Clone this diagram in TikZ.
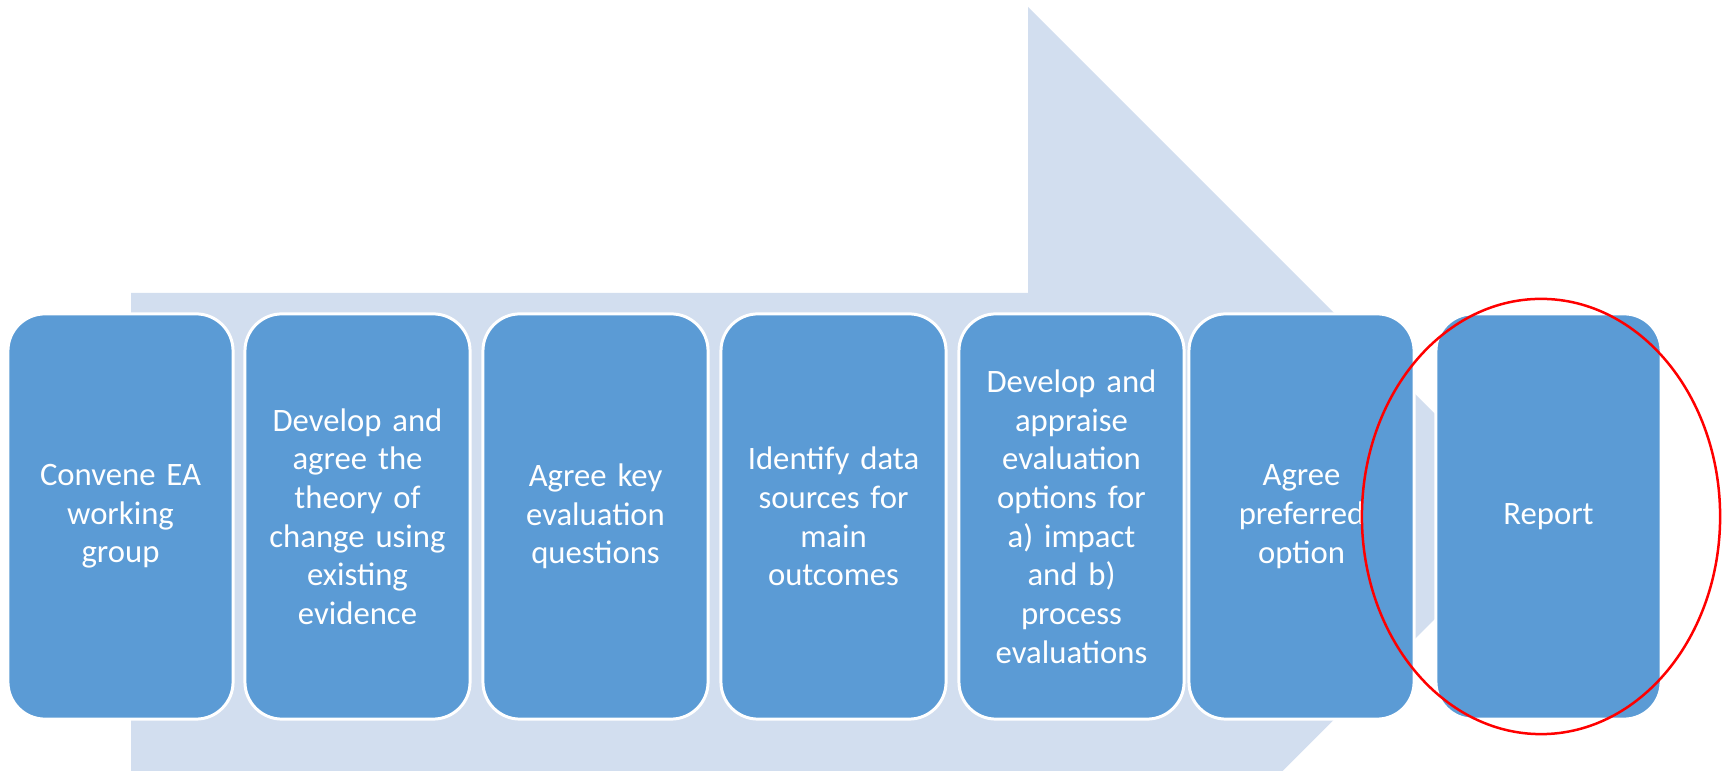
\documentclass[tikz,border=0pt]{standalone}
\usepackage{fontspec}
\setmainfont{Carlito}
\definecolor{stepblue}{HTML}{5B9BD5}
\definecolor{arrowblue}{HTML}{D2DEEF}
\begin{document}
\begin{tikzpicture}[x=0.01cm,y=-0.01cm,
  stepbox/.style={rectangle, rounded corners=0.37cm, fill=stepblue, draw=white,
    line width=0.85pt, minimum width=2.25cm, minimum height=4.05cm,
    inner xsep=0.1cm, text=white, text width=1.9cm, align=center,
    font=\fontsize{9.3}{11}\selectfont}]
  \useasboundingbox (0,0) rectangle (1725,771);
  % grosse Pfeilform im Hintergrund
  \fill[arrowblue] (131,293) -- (1028,293) -- (1028,7) -- (1537.5,516.5)
    -- (1282.5,771) -- (131,771) -- cycle;
  % die einzelnen Schritte
  \node[stepbox] (convene) at (120.5,516.5) {Convene EA\\working\\group};
  \node[stepbox] (theory) at (357.5,516.5) {Develop and\\agree the\\theory of\\change using\\existing\\evidence};
  \node[stepbox] (questions) at (595.5,516.5) {Agree key\\evaluation\\questions};
  \node[stepbox] (sources) at (833.5,516.5) {Identify data\\sources for\\main\\outcomes};
  \node[stepbox] (options) at (1071.5,516.5) {Develop and\\appraise\\evaluation\\options for\\a) impact\\and b)\\process\\evaluations};
  \node[stepbox] (preferred) at (1301.5,516.5) {Agree\\preferred\\option};
  \node[stepbox] (report) at (1548.5,516.5) {Report};
  % rote Markierung
  \draw[red, line width=0.71pt] ([xshift=-0.075cm]report.center) ellipse [x radius=1.79cm, y radius=2.175cm];
\end{tikzpicture}
\end{document}
